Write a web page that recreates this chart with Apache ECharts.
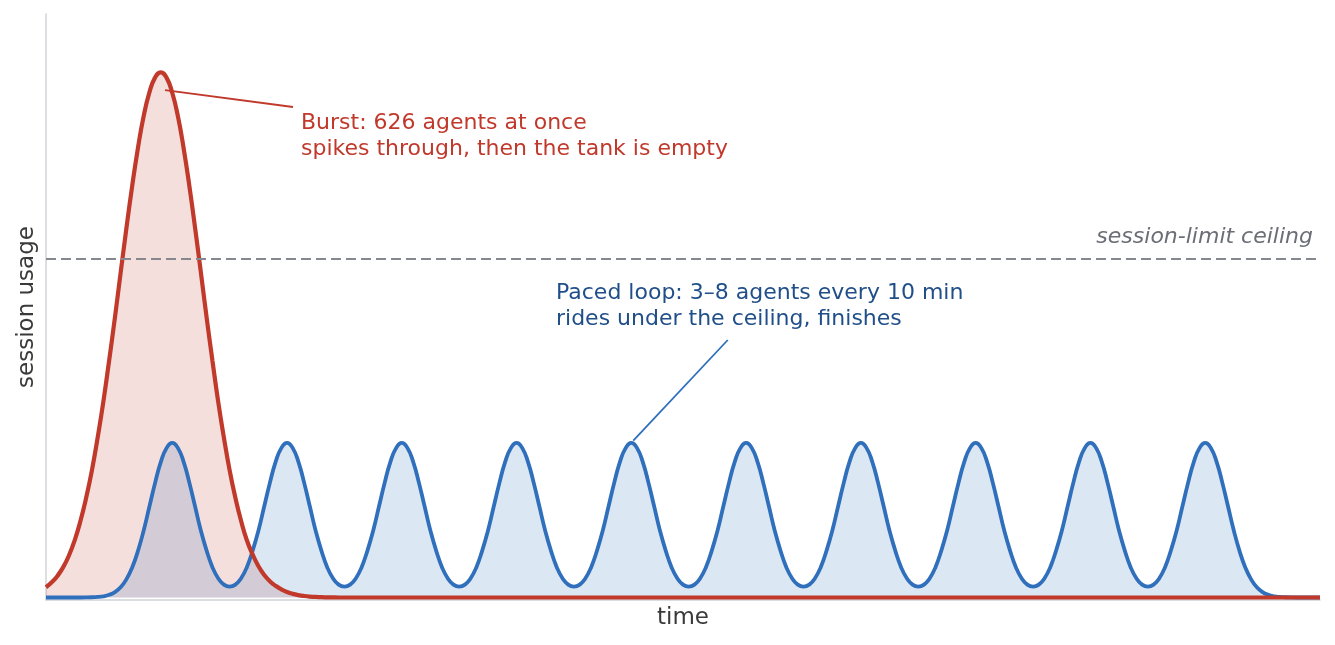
<!DOCTYPE html>
<html>
<head>
<meta charset="utf-8">
<script src="https://cdn.jsdelivr.net/npm/echarts@6/dist/echarts.min.js"></script>
<style>
  html, body { margin: 0; padding: 0; background: #ffffff; }
  #chart { width: 1335px; height: 645px; }
</style>
</head>
<body>
<div id="chart"></div>
<script>
// ---- data (time in minutes, usage in % of the plot scale) ----
const pacedTime = [
  -1, 2, 2.5, 3, 3.5, 4, 4.5, 5, 5.5, 6, 6.5, 7, 7.5, 8, 8.5, 9, 9.5, 10, 10.5, 11, 11.5, 12, 12.5, 13, 13.5, 14, 14.5, 15,
  15.5, 16, 16.5, 17, 17.5, 18, 18.5, 19, 19.5, 20, 20.5, 21, 21.5, 22, 22.5, 23, 23.5, 24, 24.5, 25,
  25.5, 26, 26.5, 27, 27.5, 28, 28.5, 29, 29.5, 30, 30.5, 31, 31.5, 32, 32.5, 33, 33.5, 34, 34.5, 35,
  35.5, 36, 36.5, 37, 37.5, 38, 38.5, 39, 39.5, 40, 40.5, 41, 41.5, 42, 42.5, 43, 43.5, 44, 44.5, 45,
  45.5, 46, 46.5, 47, 47.5, 48, 48.5, 49, 49.5, 50, 50.5, 51, 51.5, 52, 52.5, 53, 53.5, 54, 54.5, 55,
  55.5, 56, 56.5, 57, 57.5, 58, 58.5, 59, 59.5, 60, 60.5, 61, 61.5, 62, 62.5, 63, 63.5, 64, 64.5, 65,
  65.5, 66, 66.5, 67, 67.5, 68, 68.5, 69, 69.5, 70, 70.5, 71, 71.5, 72, 72.5, 73, 73.5, 74, 74.5, 75,
  75.5, 76, 76.5, 77, 77.5, 78, 78.5, 79, 79.5, 80, 80.5, 81, 81.5, 82, 82.5, 83, 83.5, 84, 84.5, 85,
  85.5, 86, 86.5, 87, 87.5, 88, 88.5, 89, 89.5, 90, 90.5, 91, 91.5, 92, 92.5, 93, 93.5, 94, 94.5, 95,
  95.5, 96, 96.5, 97, 97.5, 98, 98.5, 99, 99.5, 100, 100.5, 101, 101.5, 102, 102.5, 103, 103.5, 104, 104.5,
  105, 105.5, 106, 106.5, 107, 107.5, 108, 110
];
const pacedUsage = [
  0, 0, 0.01, 0.04, 0.09, 0.21, 0.46, 0.92, 1.75, 3.1, 5.1, 7.9, 11.4, 15.5, 19.6, 23.2, 25.6, 26.5, 25.6, 23.2, 19.6, 15.5, 11.4, 8.0, 5.2, 3.3, 2.2, 1.85,
  2.2, 3.3, 5.2, 8.0, 11.4, 15.5, 19.6, 23.2, 25.6, 26.5, 25.6, 23.2, 19.6, 15.5, 11.4, 8.0, 5.2, 3.3, 2.2, 1.85,
  2.2, 3.3, 5.2, 8.0, 11.4, 15.5, 19.6, 23.2, 25.6, 26.5, 25.6, 23.2, 19.6, 15.5, 11.4, 8.0, 5.2, 3.3, 2.2, 1.85,
  2.2, 3.3, 5.2, 8.0, 11.4, 15.5, 19.6, 23.2, 25.6, 26.5, 25.6, 23.2, 19.6, 15.5, 11.4, 8.0, 5.2, 3.3, 2.2, 1.85,
  2.2, 3.3, 5.2, 8.0, 11.4, 15.5, 19.6, 23.2, 25.6, 26.5, 25.6, 23.2, 19.6, 15.5, 11.4, 8.0, 5.2, 3.3, 2.2, 1.85,
  2.2, 3.3, 5.2, 8.0, 11.4, 15.5, 19.6, 23.2, 25.6, 26.5, 25.6, 23.2, 19.6, 15.5, 11.4, 8.0, 5.2, 3.3, 2.2, 1.85,
  2.2, 3.3, 5.2, 8.0, 11.4, 15.5, 19.6, 23.2, 25.6, 26.5, 25.6, 23.2, 19.6, 15.5, 11.4, 8.0, 5.2, 3.3, 2.2, 1.85,
  2.2, 3.3, 5.2, 8.0, 11.4, 15.5, 19.6, 23.2, 25.6, 26.5, 25.6, 23.2, 19.6, 15.5, 11.4, 8.0, 5.2, 3.3, 2.2, 1.85,
  2.2, 3.3, 5.2, 8.0, 11.4, 15.5, 19.6, 23.2, 25.6, 26.5, 25.6, 23.2, 19.6, 15.5, 11.4, 8.0, 5.2, 3.3, 2.2, 1.85,
  2.2, 3.3, 5.2, 8.0, 11.4, 15.5, 19.6, 23.2, 25.6, 26.5, 25.6, 23.2, 19.6, 15.5, 11.4, 7.9, 5.1, 3.1, 1.75,
  0.92, 0.46, 0.21, 0.09, 0.04, 0.01, 0, 0
];
const burstTime = [
  -1, -0.5, 0, 0.5, 1, 1.5, 2, 2.5, 3, 3.5, 4, 4.5, 5, 5.5, 6, 6.5, 7, 7.5, 8, 8.5, 9,
  9.5, 10, 10.5, 11, 11.5, 12, 12.5, 13, 13.5, 14, 14.5, 15, 15.5, 16, 16.5, 17, 17.5, 18, 18.5, 19,
  19.5, 20, 20.5, 21, 21.5, 22, 22.5, 23, 23.5, 24, 24.5, 110
];
const burstUsage = [
  1.75, 2.6, 3.7, 5.2, 7.2, 9.8, 13.1, 17.1, 21.8, 27.4, 33.6, 40.6, 47.9, 55.6, 63.2, 70.4, 76.9, 82.4, 86.5, 89.1, 90.0,
  89.1, 86.5, 82.4, 76.9, 70.4, 63.2, 55.6, 47.9, 40.6, 33.6, 27.4, 21.8, 17.1, 13.1, 9.8, 7.4, 5.4, 3.9, 2.8, 2.0,
  1.4, 0.95, 0.62, 0.4, 0.25, 0.15, 0.09, 0.05, 0.03, 0.01, 0, 0
];
const ceilingLevel = 58;
const burstLeader = [[9.37, 86.97], [20.52, 84.06]];
const pacedLeader = [[50.17, 26.87], [58.40, 44.13]];
const burstNote = 'Burst: 626 agents at once\nspikes through, then the tank is empty';
const pacedNote = 'Paced loop: 3\u20138 agents every 10 min\nrides under the ceiling, finishes';
const ceilingNote = 'session-limit ceiling';

// ---- chart ----
const FONT = 'DejaVu Sans';
const RED = '#c0392b';
const BLUE = '#2f6fbb';
const zip = (xs, ys) => xs.map((x, i) => [x, ys[i]]);
const burstData = zip(burstTime, burstUsage);
const pacedData = zip(pacedTime, pacedUsage);

const chart = echarts.init(document.getElementById('chart'), null, { renderer: 'canvas' });
chart.setOption({
  animation: false,
  backgroundColor: '#ffffff',
  grid: { left: 46, right: 15, top: 14, bottom: 45, containLabel: false },
  xAxis: {
    type: 'value', min: -1, max: 110,
    name: 'time', nameLocation: 'middle', nameGap: 7,
    nameTextStyle: { fontFamily: FONT, fontSize: 23, color: '#3a3a3a' },
    axisLine: { show: true, onZero: false, lineStyle: { color: '#d0d3d8', width: 1.5 } },
    axisTick: { show: false }, axisLabel: { show: false }, splitLine: { show: false }
  },
  yAxis: {
    type: 'value', min: -0.43, max: 100,
    name: 'session usage', nameLocation: 'middle', nameGap: 7, nameRotate: 90,
    nameTextStyle: { fontFamily: FONT, fontSize: 23, color: '#3a3a3a' },
    axisLine: { show: true, onZero: false, lineStyle: { color: '#d0d3d8', width: 1.5 } },
    axisTick: { show: false }, axisLabel: { show: false }, splitLine: { show: false }
  },
  series: [
    {
      name: 'burst fill', type: 'line', data: burstData,
      smooth: 0.5, showSymbol: false, symbol: 'none', silent: true,
      lineStyle: { width: 0, opacity: 0 },
      areaStyle: { color: 'rgba(192,57,43,0.16)', opacity: 1, origin: 0 },
      z: 1
    },
    {
      name: 'paced fill', type: 'line', data: pacedData,
      smooth: 0.5, showSymbol: false, symbol: 'none', silent: true,
      lineStyle: { width: 0, opacity: 0 },
      areaStyle: { color: 'rgba(47,111,187,0.17)', opacity: 1, origin: 0 },
      z: 1
    },
    {
      name: 'paced', type: 'line', data: pacedData,
      smooth: 0.5, showSymbol: false, symbol: 'none',
      lineStyle: { color: BLUE, width: 3.8 },
      z: 2,
      markLine: {
        silent: true, symbol: ['none', 'none'], label: { show: false },
        lineStyle: { color: BLUE, width: 1.8, type: 'solid' },
        data: [[{ coord: pacedLeader[0] }, { coord: pacedLeader[1] }]]
      }
    },
    {
      name: 'burst', type: 'line', data: burstData,
      smooth: 0.5, showSymbol: false, symbol: 'none',
      lineStyle: { color: RED, width: 4.2 },
      z: 3,
      markLine: {
        silent: true, symbol: ['none', 'none'], label: { show: false },
        data: [
          [{ coord: burstLeader[0], lineStyle: { color: RED, width: 1.8, type: 'solid' } },
           { coord: burstLeader[1] }],
          { yAxis: ceilingLevel, lineStyle: { color: '#86888f', width: 2, type: [10, 5] } }
        ]
      }
    }
  ],
  graphic: [
    {
      type: 'text', x: 301, y: 110, silent: true,
      style: { text: burstNote, fill: RED, fontFamily: FONT, fontSize: 22, lineHeight: 26.4, align: 'left', verticalAlign: 'top' }
    },
    {
      type: 'text', x: 556, y: 280, silent: true,
      style: { text: pacedNote, fill: '#1f4e89', fontFamily: FONT, fontSize: 22, lineHeight: 26.4, align: 'left', verticalAlign: 'top' }
    },
    {
      type: 'text', x: 1313, y: 237.5, silent: true,
      style: { text: ceilingNote, fill: '#6b6e76', fontFamily: FONT, fontStyle: 'italic', fontSize: 22, align: 'right', verticalAlign: 'middle' }
    }
  ]
});
</script>
</body>
</html>
